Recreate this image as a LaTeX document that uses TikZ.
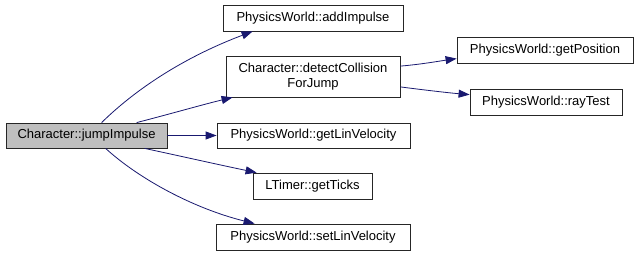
\documentclass[tikz,border=0pt]{standalone}
\usepackage{fontspec}
\setmainfont{Liberation Sans}
\usetikzlibrary{arrows.meta}
\definecolor{edgeblue}{HTML}{191970}
\definecolor{rootgray}{HTML}{BFBFBF}
\begin{document}
\begin{tikzpicture}[x=1pt,y=-1pt,
  fn/.style={draw=black!85, line width=0.8pt, inner sep=0pt, fill=white,
             font=\fontsize{13}{14.5}\selectfont, align=center},
  root/.style={fn, fill=rootgray},
  call/.style={draw=edgeblue, line width=0.8pt,
               -{Triangle[length=11pt,width=8pt]}}]
\fill[white] (0,0) rectangle (640,256);
\useasboundingbox (0,0) rectangle (640,256);

% caller
\node[root, minimum width=161, minimum height=25] (ji) at (86.5,135.5) {Character::jumpImpulse};

% callees
\node[fn, minimum width=180, minimum height=26] (ai) at (313,18) {PhysicsWorld::addImpulse};
\node[fn, minimum width=174, minimum height=41] (dc) at (313,76.5) {Character::detectCollision\\ForJump};
\node[fn, minimum width=193, minimum height=25] (glv) at (313.5,135.5) {PhysicsWorld::getLinVelocity};
\node[fn, minimum width=119, minimum height=26] (gt) at (312.5,186) {LTimer::getTicks};
\node[fn, minimum width=194, minimum height=26] (slv) at (313,237) {PhysicsWorld::setLinVelocity};
\node[fn, minimum width=176, minimum height=26] (gp) at (545,50) {PhysicsWorld::getPosition};
\node[fn, minimum width=152, minimum height=26] (rt) at (546,102) {PhysicsWorld::rayTest};

% call edges
\draw[call] ([xshift=96]ji.north west) .. controls (140,85) and (190,55) .. ([xshift=30]ai.south west);
\draw[call] ([xshift=131]ji.north west) .. controls (170,114) and (205,104) .. ([xshift=7]dc.south west);
\draw[call] (ji.east) -- (glv.west);
\draw[call] ([xshift=139]ji.south west) .. controls (180,156) and (220,165) .. ([xshift=4]gt.north west);
\draw[call] ([xshift=100]ji.south west) .. controls (138,178) and (192,208) .. ([xshift=39]slv.north west);
\draw[call] ([yshift=-10.5]dc.north east) .. controls (420,64.5) and (440,61) .. ([yshift=-22]gp.north west);
\draw[call] ([yshift=10.5]dc.south east) .. controls (420,89.5) and (450,93) .. ([yshift=-6]rt.north west);
\end{tikzpicture}
\end{document}
